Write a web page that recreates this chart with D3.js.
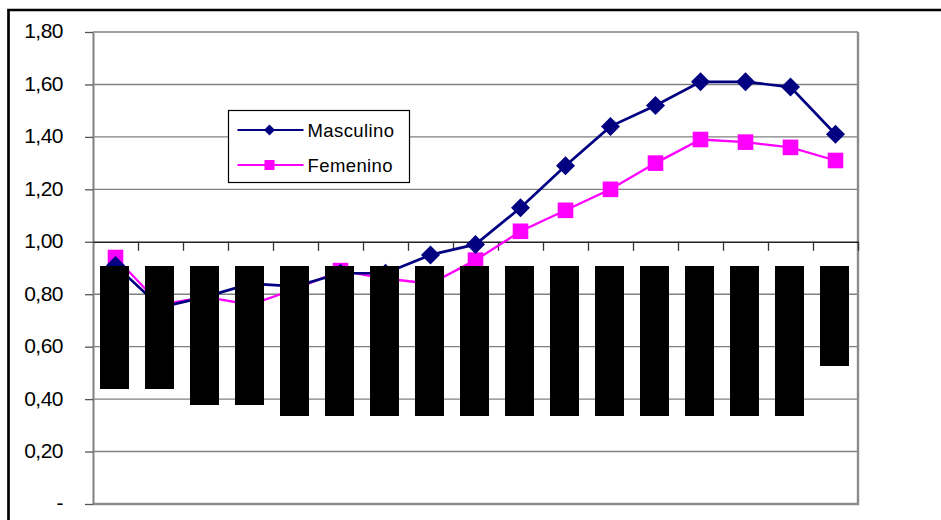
<!DOCTYPE html>
<html>
<head>
    <title>Masculino / Femenino</title>
    <script src="https://d3js.org/d3.v7.min.js"></script>
    <style>
        body { margin: 0; background: white; }
        svg { display: block; font-family: "Liberation Sans", Arial, sans-serif; }
    </style>
</head>
<body>
    <div id="chart"></div>
    <script>
        // 17 grupos; las etiquetas originales están tapadas en la imagen
        const categories = d3.range(1, 18).map(i => "G" + i);
        const masculino = [0.91, 0.75, 0.79, 0.84, 0.83, 0.88, 0.88, 0.95, 0.99, 1.13, 1.29, 1.44, 1.52, 1.61, 1.61, 1.59, 1.41];
        const femenino  = [0.94, 0.76, 0.79, 0.76, 0.82, 0.89, 0.86, 0.84, 0.93, 1.04, 1.12, 1.20, 1.30, 1.39, 1.38, 1.36, 1.31];
        const yTicks = [0, 0.2, 0.4, 0.6, 0.8, 1.0, 1.2, 1.4, 1.6, 1.8];
        const seriesNames = ["Masculino", "Femenino"];

        const width = 941, height = 520;
        const plot = { left: 93, right: 858, top: 32, bottom: 504 };
        // bloques negros que tapan las etiquetas de categoría (largo en px)
        const maskDepth = [123, 123, 139, 139, 150, 150, 150, 150, 150, 150, 150, 150, 150, 150, 150, 150, 100];

        const svg = d3.select("#chart").append("svg")
            .attr("width", width)
            .attr("height", height);

        const x = d3.scaleBand()
            .domain(categories)
            .range([plot.left, plot.right])
            .padding(0);

        const xEdge = d3.scaleLinear()
            .domain([0, categories.length])
            .range([plot.left, plot.right]);

        const y = d3.scaleLinear()
            .domain([0, 1.8])
            .range([plot.bottom, plot.top]);

        // marco exterior
        svg.append("path")
            .attr("d", `M8.5,${height + 5} V10 H${width + 5}`)
            .attr("fill", "none")
            .attr("stroke", "#000")
            .attr("stroke-width", 2.7);

        // líneas de cuadrícula
        svg.append("g")
            .selectAll("line")
            .data(yTicks.filter(v => v > 0 && v !== 1))
            .join("line")
            .attr("x1", plot.left)
            .attr("x2", plot.right)
            .attr("y1", d => y(d))
            .attr("y2", d => y(d))
            .attr("stroke", "#808080")
            .attr("stroke-width", 1.4);

        // borde del área de trazado
        svg.append("path")
            .attr("d", `M${plot.right},${plot.top} V${plot.bottom} H${plot.left}`)
            .attr("fill", "none")
            .attr("stroke", "#8c8c8c")
            .attr("stroke-width", 2.4);

        // eje Y
        const yAxis = svg.append("g")
            .attr("transform", `translate(${plot.left},0)`)
            .call(d3.axisLeft(y)
                .tickValues(yTicks)
                .tickSize(8)
                .tickSizeOuter(0)
                .tickPadding(22)
                .tickFormat(v => v === 0 ? "-" : d3.format(".2f")(v).replace(".", ",")));
        yAxis.select(".domain").attr("stroke", "#808080").attr("stroke-width", 2);
        yAxis.selectAll(".tick line").attr("stroke", "#555").attr("stroke-width", 1.3);
        yAxis.selectAll(".tick text")
            .attr("fill", "#000")
            .attr("dy", "0.28em")
            .style("font-size", "21px")
            .style("letter-spacing", "-0.5px");

        // eje de categorías (cruza en 1,00)
        const xAxis = svg.append("g")
            .attr("transform", `translate(0,${y(1)})`)
            .call(d3.axisBottom(xEdge)
                .tickValues(d3.range(1, categories.length + 1))
                .tickSize(9)
                .tickSizeOuter(0)
                .tickFormat(""));
        xAxis.select(".domain").attr("stroke", "#222").attr("stroke-width", 1.5);
        xAxis.selectAll(".tick line").attr("stroke", "#333").attr("stroke-width", 1.3);

        const cx = d => x(d) + x.bandwidth() / 2;
        const series = [
            { name: seriesNames[0], values: masculino, color: "#000080", lw: 2.7, shape: "diamond" },
            { name: seriesNames[1], values: femenino, color: "#FF00FF", lw: 2.3, shape: "square" }
        ];

        const diamond = r => `M0,${-r}L${r},0L0,${r}L${-r},0Z`;
        const square = r => `M${-r},${-r}H${r}V${r}H${-r}Z`;

        // dibujar femenino debajo, masculino encima
        series.slice().reverse().forEach(s => {
            const line = d3.line()
                .x((_, i) => cx(categories[i]))
                .y(v => y(v));
            svg.append("path")
                .datum(s.values)
                .attr("d", line)
                .attr("fill", "none")
                .attr("stroke", s.color)
                .attr("stroke-width", s.lw);
            svg.append("g")
                .selectAll("path")
                .data(s.values)
                .join("path")
                .attr("transform", (v, i) => `translate(${cx(categories[i])},${y(v)})`)
                .attr("d", s.shape === "diamond" ? diamond(9.5) : square(7.8))
                .attr("fill", s.color);
        });

        // bloques negros
        svg.append("g")
            .selectAll("rect")
            .data(categories)
            .join("rect")
            .attr("x", d => cx(d) - 15.5)
            .attr("y", 266)
            .attr("width", 29)
            .attr("height", (d, i) => maskDepth[i])
            .attr("fill", "#000");

        // leyenda
        const legend = svg.append("g").attr("transform", "translate(228.5,110.5)");
        legend.append("rect")
            .attr("width", 181)
            .attr("height", 72)
            .attr("fill", "#fff")
            .attr("stroke", "#000")
            .attr("stroke-width", 1.2);
        series.forEach((s, i) => {
            const ly = 19.5 + i * 35;
            legend.append("line")
                .attr("x1", 9).attr("x2", 75)
                .attr("y1", ly).attr("y2", ly)
                .attr("stroke", s.color)
                .attr("stroke-width", 2.2);
            legend.append("path")
                .attr("transform", `translate(41,${ly})`)
                .attr("d", s.shape === "diamond" ? diamond(5.5) : square(5))
                .attr("fill", s.color);
            legend.append("text")
                .attr("x", 79)
                .attr("y", ly)
                .attr("dy", "0.36em")
                .style("font-size", "18.5px")
                .style("letter-spacing", "0.4px")
                .text(s.name);
        });
    </script>
</body>
</html>
